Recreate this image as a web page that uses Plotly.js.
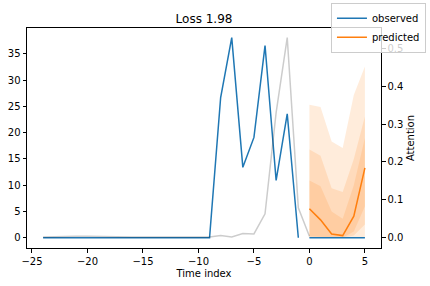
<!DOCTYPE html>
<html>
<head>
<meta charset="utf-8">
<script src="https://cdn.plot.ly/plotly-3.0.1.min.js"></script>
<style>html,body{margin:0;padding:0;background:#fff}#chart{width:430px;height:286px}</style>
</head>
<body>
<div id="chart"></div>
<script>
// ---- data ----
const encoderX = [-24,-23,-22,-21,-20,-19,-18,-17,-16,-15,-14,-13,-12,-11,-10,-9,-8,-7,-6,-5,-4,-3,-2,-1];
const observedEncoder = [0,0,0,0,0,0,0,0,0,0,0,0,0,0,0,0,26.7,38.1,13.4,19.1,36.6,10.9,23.6,0];
const decoderX = [0,1,2,3,4,5];
const observedDecoder = [0,0,0,0,0,0];
const predicted = [5.5,3.4,0.7,0.4,4.1,13.3];
const q02 = [0,0,0,0,0,0];
const q98 = [25.3,24.9,18.3,17.1,27.2,32.6];
const q10 = [0,0,0,0,0.4,2.5];
const q90 = [16.8,15.6,9.4,8.7,15.0,23.1];
const q25 = [0.3,0.2,0,0,1.2,6.0];
const q75 = [10.9,9.8,5.0,3.6,10.0,19.0];
const attentionX = [-24,-23,-22,-21,-20,-19,-18,-17,-16,-15,-14,-13,-12,-11,-10,-9,-8,-7,-6,-5,-4,-3,-2,-1,0];
const attention = [0.002,0.003,0.004,0.004,0.004,0.003,0.002,0.002,0.002,0.002,0.002,0.002,0.002,0.002,0.002,0.002,0.006,0.002,0.011,0.010,0.063,0.33,0.528,0.079,0.004];
const leftTicks = [0,5,10,15,20,25,30,35];
const rightTicks = [0,0.1,0.2,0.3,0.4,0.5];
const xTicks = [-25,-20,-15,-10,-5,0,5];

const blue = '#1f77b4', orange = '#ff7f0e';
const band = 'rgba(255,127,14,0.15)';
const traces = [];
[[q02,q98],[q10,q90],[q25,q75]].forEach(([lo,hi]) => {
  traces.push({x: decoderX, y: lo, mode: 'lines', line: {width: 0, color: band}, showlegend: false, hoverinfo: 'skip'});
  traces.push({x: decoderX, y: hi, mode: 'lines', line: {width: 0, color: band}, fill: 'tonexty', fillcolor: band, showlegend: false, hoverinfo: 'skip'});
});
traces.push({x: encoderX, y: observedEncoder, mode: 'lines', name: 'observed', line: {color: blue, width: 1.5}});
traces.push({x: decoderX, y: observedDecoder, mode: 'lines', showlegend: false, line: {color: blue, width: 1.5}});
traces.push({x: decoderX, y: predicted, mode: 'lines', name: 'predicted', line: {color: orange, width: 1.5}});
traces.push({x: attentionX, y: attention, yaxis: 'y2', mode: 'lines', showlegend: false, line: {color: 'rgba(0,0,0,0.2)', width: 1.5}});

const font = {family: 'DejaVu Sans', size: 10, color: '#000'};
const layout = {
  width: 430, height: 286,
  margin: {l: 27, r: 49, t: 28, b: 38, autoexpand: false},
  paper_bgcolor: '#fff', plot_bgcolor: '#fff',
  font: font,
  showlegend: true,
  title: {text: 'Loss 1.98', font: {family: 'DejaVu Sans', size: 12, color: '#000'}, x: 0.5, xref: 'paper', xanchor: 'center', y: 0.934, yref: 'container', yanchor: 'middle'},
  xaxis: {range: [-25.45, 6.45], tickvals: xTicks, ticktext: xTicks.map(v => v < 0 ? '\u2212' + Math.abs(v) : String(v)),
    ticks: 'outside', ticklen: 3.5, tickcolor: '#000', showgrid: false, zeroline: false,
    showline: true, mirror: true, linecolor: '#000', linewidth: 1,
    title: {text: 'Time index', font: font, standoff: 4}, automargin: false},
  yaxis: {range: [-1.96, 39.94], tickvals: leftTicks, ticks: 'outside', ticklen: 3.5, tickcolor: '#000',
    showgrid: false, zeroline: false, showline: true, mirror: true, linecolor: '#000', linewidth: 1, automargin: false},
  yaxis2: {range: [-0.0272, 0.5533], overlaying: 'y', side: 'right', tickvals: rightTicks, tickformat: '.1f',
    ticks: 'outside', ticklen: 3.5, tickcolor: '#000', showgrid: false, zeroline: false,
    showline: true, linecolor: '#000', linewidth: 1,
    title: {text: 'Attention', font: font, standoff: 4}, automargin: false},
  legend: {x: 1.127, y: 1.115, xanchor: 'right', yanchor: 'top', xref: 'paper', yref: 'paper',
    bgcolor: 'rgba(255,255,255,0.8)', bordercolor: '#cccccc', borderwidth: 1, font: font,
    itemwidth: 30, tracegroupgap: 0, traceorder: 'normal'}
};
Plotly.newPlot('chart', traces, layout, {staticPlot: true, displayModeBar: false});
</script>
</body>
</html>
